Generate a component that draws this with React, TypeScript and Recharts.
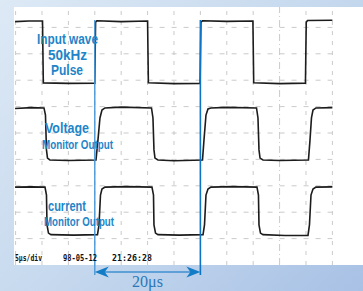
import React from "react";
import { LineChart, Line, XAxis, YAxis, ReferenceArea, ReferenceLine, ReferenceDot } from "recharts";

// time in microseconds, level in screen divisions
const inputWave = [
  { t: -0.1, v: 9.22 }, { t: 2.5, v: 9.24 }, { t: 5.1, v: 9.24 }, { t: 5.25, v: 6.9 },
  { t: 10, v: 6.88 }, { t: 15.0, v: 6.89 }, { t: 15.15, v: 9.2 }, { t: 15.4, v: 9.25 },
  { t: 20, v: 9.22 }, { t: 25.0, v: 9.24 }, { t: 25.15, v: 6.9 }, { t: 30, v: 6.87 },
  { t: 34.95, v: 6.88 }, { t: 35.1, v: 9.2 }, { t: 35.4, v: 9.25 }, { t: 40, v: 9.23 },
  { t: 44.95, v: 9.24 }, { t: 45.1, v: 6.9 }, { t: 50, v: 6.87 }, { t: 54.9, v: 6.89 },
  { t: 55.05, v: 9.2 }, { t: 55.3, v: 9.26 }, { t: 60, v: 9.27 },
];

const voltageWave = [
  { t: -0.1, v: 5.93 }, { t: 3, v: 5.96 }, { t: 5.38, v: 5.95 }, { t: 5.66, v: 5.68 },
  { t: 5.85, v: 4.36 }, { t: 6.04, v: 4.05 }, { t: 6.5, v: 3.98 }, { t: 10, v: 3.96 },
  { t: 15.23, v: 3.98 }, { t: 15.6, v: 4.73 }, { t: 15.98, v: 5.57 }, { t: 16.36, v: 5.87 },
  { t: 16.93, v: 5.95 }, { t: 20, v: 5.98 }, { t: 25.74, v: 5.95 }, { t: 26.02, v: 5.57 },
  { t: 26.21, v: 4.36 }, { t: 26.4, v: 4.05 }, { t: 26.97, v: 3.98 }, { t: 30, v: 3.95 },
  { t: 35.4, v: 3.98 }, { t: 35.68, v: 4.73 }, { t: 36.06, v: 5.68 }, { t: 36.44, v: 5.91 },
  { t: 37.0, v: 5.95 }, { t: 40, v: 5.97 }, { t: 45.63, v: 5.95 }, { t: 45.91, v: 5.57 },
  { t: 46.1, v: 4.36 }, { t: 46.3, v: 4.05 }, { t: 46.86, v: 3.98 }, { t: 50, v: 3.96 },
  { t: 55.47, v: 3.98 }, { t: 55.76, v: 4.73 }, { t: 56.04, v: 5.57 }, { t: 56.33, v: 5.87 },
  { t: 56.89, v: 5.95 }, { t: 60, v: 5.96 },
];

const currentWave = [
  { t: -0.1, v: 2.95 }, { t: 3, v: 2.96 }, { t: 5.57, v: 2.95 }, { t: 5.85, v: 2.65 },
  { t: 5.95, v: 1.52 }, { t: 6.23, v: 1.21 }, { t: 6.7, v: 1.15 }, { t: 11, v: 1.13 },
  { t: 15.51, v: 1.15 }, { t: 15.8, v: 1.52 }, { t: 16.08, v: 2.65 }, { t: 16.36, v: 2.88 },
  { t: 16.93, v: 2.95 }, { t: 21, v: 2.97 }, { t: 25.83, v: 2.95 }, { t: 26.12, v: 2.65 },
  { t: 26.21, v: 1.52 }, { t: 26.5, v: 1.21 }, { t: 26.97, v: 1.15 }, { t: 31, v: 1.13 },
  { t: 35.5, v: 1.15 }, { t: 35.78, v: 1.52 }, { t: 36.06, v: 2.65 }, { t: 36.44, v: 2.88 },
  { t: 37.0, v: 2.95 }, { t: 41, v: 2.97 }, { t: 45.72, v: 2.95 }, { t: 46.0, v: 2.65 },
  { t: 46.1, v: 1.52 }, { t: 46.38, v: 1.21 }, { t: 46.86, v: 1.15 }, { t: 51, v: 1.12 },
  { t: 55.38, v: 1.12 }, { t: 55.66, v: 1.52 }, { t: 55.95, v: 2.65 }, { t: 56.33, v: 2.88 },
  { t: 56.89, v: 2.95 }, { t: 60, v: 2.96 },
];

const gridTimes = [0, 5, 10, 15, 20, 25, 30, 35, 40, 45, 50, 55, 60];
const gridDivs = [1, 2, 3, 4, 5, 6, 7, 8, 9];
const markerTimes = [15, 35];
const periodLabel = "20μs";
const scaleLabel = "5μs/div";
const dateLabel = "98-05-12";
const timeLabel = "21:26:28";

const X_DOMAIN: [number, number] = [-0.3, 65.8];
const Y_DOMAIN: [number, number] = [-0.985, 9.773];
const ARROW_Y = -0.265;
const BLUE = "#1e85c9";

const leftHead = (p: any) => (
  <polygon
    points={`${p.cx},${p.cy} ${p.cx + 14},${p.cy - 5.5} ${p.cx + 10},${p.cy} ${p.cx + 14},${p.cy + 5.5}`}
    fill="#137cc6"
  />
);
const rightHead = (p: any) => (
  <polygon
    points={`${p.cx},${p.cy} ${p.cx - 14},${p.cy - 5.5} ${p.cx - 10},${p.cy} ${p.cx - 14},${p.cy + 5.5}`}
    fill="#137cc6"
  />
);

const narrow = "'Liberation Sans Narrow', 'Arial Narrow', 'Liberation Sans', Arial, sans-serif";

export default function App() {
  return (
    <div
      style={{
        position: "absolute",
        left: 0,
        top: 0,
        width: 363,
        height: 291,
        background: "linear-gradient(135deg, #dde9f5 0%, #c6d9ee 50%, #a8c1e5 100%)",
        overflow: "hidden",
      }}
    >
      <LineChart width={363} height={291} margin={{ top: 7, right: 0, bottom: 0, left: 14 }}>
        <XAxis type="number" dataKey="t" domain={X_DOMAIN} allowDataOverflow hide />
        <YAxis type="number" dataKey="v" domain={Y_DOMAIN} allowDataOverflow hide />
        <ReferenceArea x1={X_DOMAIN[0]} x2={X_DOMAIN[1]} y1={0} y2={Y_DOMAIN[1]} fill="#ffffff" fillOpacity={1} stroke="none" />
        {gridTimes.map((t) => (
          <ReferenceLine
            key={"gx" + t}
            segment={[{ x: t, y: 0 }, { x: t, y: Y_DOMAIN[1] }]}
            stroke="#c4c4c4"
            strokeWidth={0.9}
            strokeDasharray={t === 50 ? "7 3 1 3" : "4 6"}
          />
        ))}
        {gridDivs.map((d) => (
          <ReferenceLine
            key={"gy" + d}
            segment={[{ x: 0, y: d }, { x: 60, y: d }]}
            stroke="#c4c4c4"
            strokeWidth={0.9}
            strokeDasharray="5 7"
          />
        ))}
        <Line data={inputWave} dataKey="v" type="linear" stroke="#1c1c1c" strokeWidth={1.6} dot={false} isAnimationActive={false} />
        <Line data={voltageWave} dataKey="v" type="linear" stroke="#1c1c1c" strokeWidth={1.6} dot={false} isAnimationActive={false} />
        <Line data={currentWave} dataKey="v" type="linear" stroke="#1c1c1c" strokeWidth={1.6} dot={false} isAnimationActive={false} />
        <ReferenceLine
          segment={[{ x: markerTimes[0], y: 9.28 }, { x: markerTimes[0], y: -0.38 }]}
          stroke="#4a98d6"
          strokeWidth={1.4}
          ifOverflow="visible"
        />
        <ReferenceLine
          segment={[{ x: markerTimes[1], y: 9.28 }, { x: markerTimes[1], y: -0.38 }]}
          stroke="#0c74c2"
          strokeWidth={1.6}
          ifOverflow="visible"
        />
        <ReferenceLine
          segment={[{ x: markerTimes[0] + 1.5, y: ARROW_Y }, { x: markerTimes[1] - 1.5, y: ARROW_Y }]}
          stroke="#3f8fd0"
          strokeWidth={1.5}
          ifOverflow="visible"
        />
        <ReferenceDot x={markerTimes[0]} y={ARROW_Y} r={1} shape={leftHead} ifOverflow="visible" />
        <ReferenceDot x={markerTimes[1]} y={ARROW_Y} r={1} shape={rightHead} ifOverflow="visible" />
      </LineChart>
      <svg width={363} height={291} style={{ position: "absolute", left: 0, top: 0, pointerEvents: "none" }}>
        <g fill={BLUE} fontFamily={narrow} fontSize={14} fontWeight="bold">
          <text x={37} y={44} textLength={61} lengthAdjust="spacingAndGlyphs">Input wave</text>
          <text x={48} y={59.5} textLength={39} lengthAdjust="spacingAndGlyphs">50kHz</text>
          <text x={51} y={75} textLength={32} lengthAdjust="spacingAndGlyphs">Pulse</text>
          <text x={45} y={133} textLength={44} lengthAdjust="spacingAndGlyphs">Voltage</text>
          <text x={42} y={149} fontSize={12} textLength={71} lengthAdjust="spacingAndGlyphs">Monitor Output</text>
          <text x={48} y={210.5} textLength={38} lengthAdjust="spacingAndGlyphs">current</text>
          <text x={44} y={226} fontSize={12} textLength={70} lengthAdjust="spacingAndGlyphs">Monitor Output</text>
        </g>
        <g fill="#111" fontFamily="'DejaVu Sans Mono', monospace" fontWeight="bold" fontSize={8}>
          <text x={15} y={261} textLength={27} lengthAdjust="spacingAndGlyphs">{scaleLabel}</text>
          <text x={63} y={261} textLength={34} lengthAdjust="spacingAndGlyphs">{dateLabel}</text>
          <text x={112} y={261} textLength={40} lengthAdjust="spacingAndGlyphs">{timeLabel}</text>
        </g>
        <text x={132} y={287} fill="#2a78b8" fontFamily="'Liberation Serif', 'Times New Roman', serif" fontSize={16} textLength={31} lengthAdjust="spacingAndGlyphs">
          {periodLabel}
        </text>
      </svg>
    </div>
  );
}
